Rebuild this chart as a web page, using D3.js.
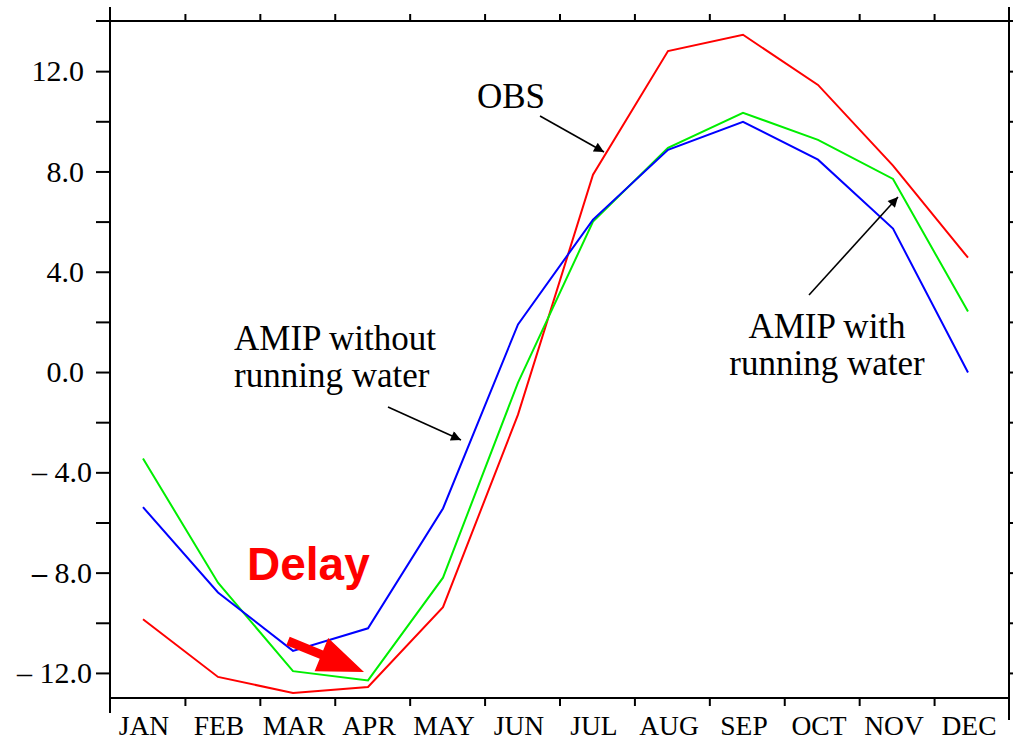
<!DOCTYPE html>
<html>
<head>
<meta charset="utf-8">
<script src="https://cdn.jsdelivr.net/npm/d3@7/dist/d3.min.js"></script>
<style>
  html, body { margin: 0; padding: 0; background: #fff; }
  svg { display: block; }
  text { font-family: "Liberation Serif", "Times New Roman", serif; fill: #000; }
</style>
</head>
<body>
<svg id="chart" width="1013" height="742"></svg>
<script>
// Monthly climatology, three curves
const months = ["JAN","FEB","MAR","APR","MAY","JUN","JUL","AUG","SEP","OCT","NOV","DEC"];
const obs        = [-9.86, -12.16, -12.8, -12.56, -9.38, -1.7, 7.87, 12.8, 13.45, 11.45, 8.23, 4.56];
const withRun    = [-3.45, -8.4, -11.93, -12.3, -8.2, -0.42, 6.0, 8.94, 10.34, 9.26, 7.7, 2.41];
const withoutRun = [-5.39, -8.79, -11.12, -10.22, -5.44, 1.9, 6.08, 8.86, 9.98, 8.47, 5.72, -0.02];
const yTicks = [-12, -8, -4, 0, 4, 8, 12];
const yMinor = [-10, -6, -2, 2, 6, 10];

const svg = d3.select("#chart");
const pLeft = 110, pRight = 1009, pTop = 21, pBottom = 698;

const y = d3.scaleLinear().domain([-13, 14]).range([pBottom, pTop]);
const xEdge = d3.scaleLinear().domain([0, 12]).range([pLeft, pRight]);
const x = d3.scalePoint().domain(months).range([143, 968]);

// Frame lines (extend slightly past the corners)
const frame = svg.append("g").attr("stroke", "#000").attr("stroke-width", 2);
frame.append("line").attr("x1", pLeft).attr("x2", pLeft).attr("y1", 7).attr("y2", 713);
frame.append("line").attr("x1", pRight).attr("x2", pRight).attr("y1", 7).attr("y2", 720);
frame.append("line").attr("x1", 96).attr("x2", 1013).attr("y1", pTop).attr("y2", pTop);
frame.append("line").attr("x1", pLeft).attr("x2", pRight).attr("y1", pBottom).attr("y2", pBottom);

// Left axis: labelled ticks every 4, unlabelled every 2
const yAll = yTicks.concat(yMinor).sort((a, b) => a - b);
const leftAxis = svg.append("g").attr("transform", `translate(${pLeft},0)`)
  .call(d3.axisLeft(y).tickValues(yAll).tickSize(14).tickPadding(12).tickFormat(""));
leftAxis.select(".domain").remove();
leftAxis.selectAll(".tick line").attr("stroke", "#000").attr("stroke-width", 2);
leftAxis.selectAll(".tick text").each(function (v) {
  if (!yTicks.includes(v)) return;
  const t = d3.select(this)
    .style("font-size", "30px").style("font-family", "Liberation Serif").style("fill", "#000")
    .attr("dx", v < 0 ? 8 : 0);
  if (v < 0) {
    t.append("tspan").style("font-weight", v === -8 ? "bold" : "normal").text("\u2013");
    t.append("tspan").text(" " + Math.abs(v).toFixed(1));
  } else {
    t.text(v.toFixed(1));
  }
});

// Right axis: ticks only
const rightAxis = svg.append("g").attr("transform", `translate(${pRight},0)`)
  .call(d3.axisRight(y).tickValues(yAll).tickSize(10).tickFormat(""));
rightAxis.select(".domain").remove();
rightAxis.selectAll(".tick line").attr("stroke", "#000").attr("stroke-width", 2);

// Bottom axis: ticks at month boundaries, labels under each month
const bottomAxis = svg.append("g").attr("transform", `translate(0,${pBottom})`)
  .call(d3.axisBottom(xEdge).tickValues(d3.range(1, 12)).tickSize(8).tickFormat(""));
bottomAxis.select(".domain").remove();
bottomAxis.selectAll(".tick line").attr("stroke", "#000").attr("stroke-width", 2);

svg.append("g").selectAll("text").data(months).join("text")
  .attr("x", d => x(d) + 1).attr("y", 735)
  .attr("text-anchor", "middle").style("font-size", "27.5px")
  .text(d => d);

// Top axis: ticks at month boundaries pointing up
const topAxis = svg.append("g").attr("transform", `translate(0,${pTop})`)
  .call(d3.axisTop(xEdge).tickValues(d3.range(1, 12)).tickSize(7).tickFormat(""));
topAxis.select(".domain").remove();
topAxis.selectAll(".tick line").attr("stroke", "#000").attr("stroke-width", 2);

// Curves
const line = d3.line().x((d, i) => x(months[i])).y(d => y(d));
const series = [
  { values: obs, color: "#ff0000" },
  { values: withRun, color: "#00ee00" },
  { values: withoutRun, color: "#0000ff" }
];
svg.append("g").selectAll("path").data(series).join("path")
  .attr("d", d => line(d.values))
  .attr("fill", "none")
  .attr("stroke", d => d.color)
  .attr("stroke-width", 2);

// Annotation arrows
const defs = svg.append("defs");
defs.append("marker").attr("id", "head")
  .attr("viewBox", "0 0 10 10").attr("refX", 10).attr("refY", 5)
  .attr("markerWidth", 16).attr("markerHeight", 10).attr("markerUnits", "userSpaceOnUse")
  .attr("orient", "auto")
  .append("path").attr("d", "M0,0 L10,5 L0,10 Z").attr("fill", "#000");

const arrows = [
  [540, 116, 604, 152],
  [388, 407, 461, 440],
  [809, 295, 898, 197]
];
svg.append("g").selectAll("line").data(arrows).join("line")
  .attr("x1", d => d[0]).attr("y1", d => d[1])
  .attr("x2", d => d[2]).attr("y2", d => d[3])
  .attr("stroke", "#000").attr("stroke-width", 1.6)
  .attr("marker-end", "url(#head)");

const labels = [
  { x: 477, y: 108, t: "OBS", anchor: "start" },
  { x: 234, y: 350, t: "AMIP without", anchor: "start" },
  { x: 234, y: 387, t: "running water", anchor: "start" },
  { x: 827, y: 338, t: "AMIP with", anchor: "middle" },
  { x: 827, y: 375, t: "running water", anchor: "middle" }
];
svg.append("g").selectAll("text").data(labels).join("text")
  .attr("x", d => d.x).attr("y", d => d.y)
  .attr("text-anchor", d => d.anchor)
  .style("font-size", "35px")
  .text(d => d.t);

// Red "Delay" callout with a thick arrow
svg.append("text").attr("x", 247).attr("y", 580)
  .style("font-family", "'Liberation Sans', Arial, sans-serif")
  .style("font-weight", "bold").style("font-size", "46px")
  .style("fill", "#ff0000").text("Delay");

function blockArrow(x1, y1, x2, y2, shaft, headLen, headW) {
  const dx = x2 - x1, dy = y2 - y1, L = Math.hypot(dx, dy);
  const ux = dx / L, uy = dy / L, nx = -uy, ny = ux;
  const bx = x2 - ux * headLen, by = y2 - uy * headLen;
  const p = [
    [x1 + nx * shaft / 2, y1 + ny * shaft / 2],
    [bx + nx * shaft / 2, by + ny * shaft / 2],
    [bx + nx * headW / 2, by + ny * headW / 2],
    [x2, y2],
    [bx - nx * headW / 2, by - ny * headW / 2],
    [bx - nx * shaft / 2, by - ny * shaft / 2],
    [x1 - nx * shaft / 2, y1 - ny * shaft / 2]
  ];
  return "M" + p.map(q => q.join(",")).join("L") + "Z";
}
svg.append("path").attr("d", blockArrow(288, 641, 364, 672, 9, 46, 36)).attr("fill", "#ff0000");
</script>
</body>
</html>
